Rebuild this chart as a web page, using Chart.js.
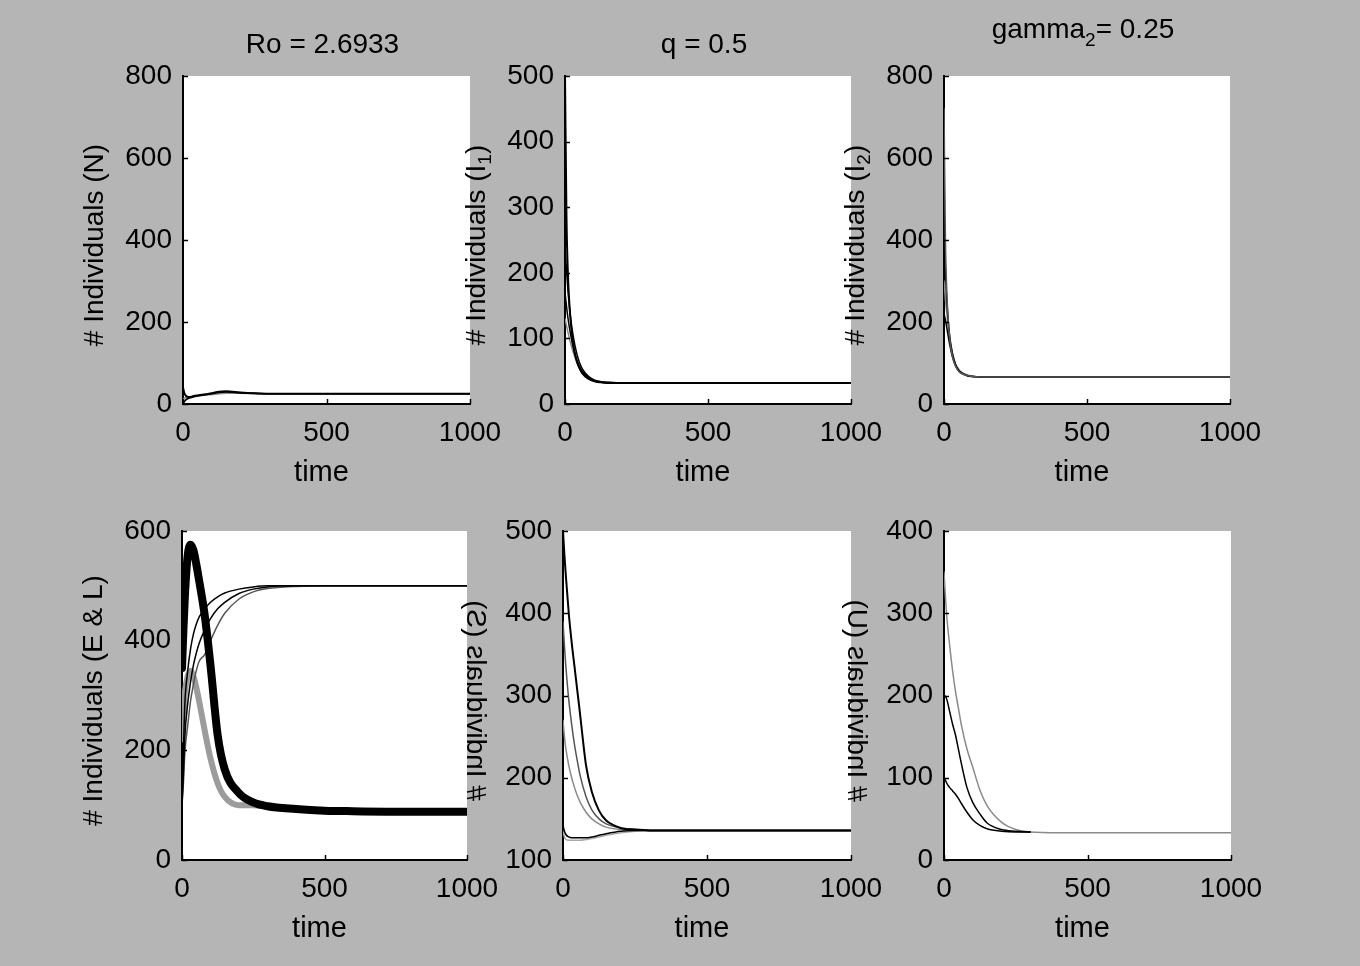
<!DOCTYPE html>
<html>
<head>
<meta charset="utf-8">
<script src="https://cdn.jsdelivr.net/npm/chart.js@4.4.0/dist/chart.umd.min.js"></script>
<style>
  html, body { margin: 0; padding: 0; }
  body { width: 1360px; height: 966px; background: #b5b5b5; position: relative; overflow: hidden; }
  canvas { position: absolute; }
</style>
</head>
<body>
<script>
// Sample times shared by every run (time units)
const TIME = [0, 5, 10, 20, 30, 40, 50, 60, 80, 100, 125, 150, 200, 250, 300, 400, 500, 600, 800, 1000];
const X_TICKS = [0, 500, 1000];

// Total population N
const N_TICKS = [0, 200, 400, 600, 800];
const N_RUN1 = [40, 26, 20, 17, 18, 20, 21, 22, 24, 26, 30, 31, 28, 26, 25, 25, 25, 25, 25, 25];
const N_RUN2 = [0, 6, 10, 14, 16, 18, 20, 21, 23, 25, 28, 29, 27, 26, 25, 25, 25, 25, 25, 25];
const N_RUN3 = [12, 14, 15, 16, 17, 18, 19, 20, 22, 23, 25, 26, 26, 25, 25, 25, 25, 25, 25, 25];

// Infected class I1
const I1_TICKS = [0, 100, 200, 300, 400, 500];
const I1_RUN1 = [500, 290, 200, 125, 88, 67, 55, 47, 39, 35, 33, 32, 32, 32, 32, 32, 32, 32, 32, 32];
const I1_RUN2 = [240, 205, 175, 130, 100, 79, 64, 54, 43, 37, 34, 33, 32, 32, 32, 32, 32, 32, 32, 32];
const I1_RUN3 = [170, 150, 132, 105, 84, 69, 58, 50, 41, 36, 33, 32, 32, 32, 32, 32, 32, 32, 32, 32];
const I1_RUN4 = [130, 120, 110, 92, 77, 65, 56, 49, 41, 36, 34, 33, 32, 32, 32, 32, 32, 32, 32, 32];

// Infected class I2
const I2_TICKS = [0, 200, 400, 600, 800];
const I2_RUN1 = [720, 400, 270, 160, 115, 93, 81, 75, 70, 67, 66, 66, 66, 66, 66, 66, 66, 66, 66, 66];
const I2_RUN2 = [450, 330, 250, 165, 122, 97, 84, 77, 70, 67, 66, 66, 66, 66, 66, 66, 66, 66, 66, 66];
const I2_RUN3 = [220, 205, 185, 145, 114, 94, 82, 75, 69, 67, 66, 66, 66, 66, 66, 66, 66, 66, 66, 66];
const I2_RUN4 = [300, 255, 220, 160, 122, 99, 86, 78, 71, 68, 66, 66, 66, 66, 66, 66, 66, 66, 66, 66];

// Eggs (E) and larvae (L)
const EL_TICKS = [0, 200, 400, 600];
const E_RUN1 = [350, 420, 480, 555, 575, 565, 540, 510, 445, 355, 228, 165, 122, 105, 98, 93, 90, 89, 88, 88];
const E_RUN2 = [220, 265, 305, 335, 345, 335, 315, 290, 235, 185, 140, 115, 100, 100, 97, 93, 90, 89, 88, 88];
const L_RUN1 = [100, 200, 285, 345, 385, 412, 430, 443, 458, 470, 480, 487, 494, 498, 500, 500, 500, 500, 500, 500];
const L_RUN2 = [100, 160, 225, 285, 325, 355, 377, 395, 420, 440, 458, 470, 486, 494, 498, 500, 500, 500, 500, 500];
const L_RUN3 = [100, 140, 195, 245, 290, 320, 345, 362, 375, 400, 428, 450, 476, 489, 495, 499, 500, 500, 500, 500];

// Susceptible class S
const S_TICKS = [100, 200, 300, 400, 500];
const S_RUN1 = [500, 470, 445, 400, 365, 335, 305, 275, 215, 183, 160, 148, 139, 137, 136, 136, 136, 136, 136, 136];
const S_RUN2 = [390, 360, 335, 295, 265, 240, 220, 202, 177, 161, 150, 144, 139, 137, 136, 136, 136, 136, 136, 136];
const S_RUN3 = [270, 250, 235, 215, 200, 188, 178, 170, 158, 150, 144, 140, 137, 136, 136, 136, 136, 136, 136, 136];
const S_RUN4 = [142, 135, 131, 128, 127, 127, 127, 127, 127, 128, 130, 132, 135, 136, 136, 136, 136, 136, 136, 136];
const S_RUN5 = [135, 128, 125, 124, 124, 124, 124, 124, 125, 126, 128, 130, 133, 135, 136, 136, 136, 136, 136, 136];

// Class U
const U_TICKS = [0, 100, 200, 300, 400];
const U_RUN1 = [100, 97, 93, 88, 84, 80, 75, 69, 58, 49, 42, 38, 35, 34, 34, null, null, null, null, null];
const U_RUN2 = [200, 199, 195, 180, 165, 152, 135, 118, 88, 70, 56, 45, 37, 35, 34, null, null, null, null, null];
const U_RUN3 = [350, 320, 295, 260, 230, 205, 185, 165, 135, 113, 85, 66, 46, 37, 34, 33, 33, 33, 33, 33];

const FONT = '"Liberation Sans", Arial, Helvetica, sans-serif';
const BLACK = '#000000', DARK = '#555555', GRAY = '#8a8a8a', LIGHT = '#a9a9a9', BAND = '#9c9c9c';

function run(values, color, width) {
  return { values, color, width };
}

// Runs are listed back to front: later entries are painted over earlier ones.
const PANELS = [
  { box: [183, 470, 76, 404], ticks: N_TICKS, titleY: 53,
    title: [{ t: 'Ro = 2.6933' }],
    ylabel: [{ t: '# Individuals (N)' }], mirror: false,
    runs: [run(N_RUN3, GRAY, 1.5), run(N_RUN2, BLACK, 1.5), run(N_RUN1, BLACK, 2)] },
  { box: [565, 851, 76, 404], ticks: I1_TICKS, titleY: 53,
    title: [{ t: 'q = 0.5' }],
    ylabel: [{ t: '# Individuals (I' }, { t: '1', sub: true }, { t: ')' }], mirror: false,
    runs: [run(I1_RUN4, GRAY, 1.5), run(I1_RUN3, BLACK, 1.5), run(I1_RUN2, BLACK, 1.5), run(I1_RUN1, BLACK, 2)] },
  { box: [944, 1230, 76, 404], ticks: I2_TICKS, titleY: 38,
    title: [{ t: 'gamma' }, { t: '2', sub: true }, { t: '= 0.25' }],
    ylabel: [{ t: '# Individuals (I' }, { t: '2', sub: true }, { t: ')' }], mirror: false,
    runs: [run(I2_RUN4, GRAY, 1.5), run(I2_RUN3, BLACK, 1.5), run(I2_RUN2, BLACK, 1.5), run(I2_RUN1, DARK, 1.5)] },
  { box: [182, 467, 531, 860], ticks: EL_TICKS, titleY: null, title: null,
    ylabel: [{ t: '# Individuals (E & L)' }], mirror: false,
    runs: [run(E_RUN2, BAND, 6), run(L_RUN3, DARK, 1.5), run(L_RUN2, BLACK, 1.5), run(L_RUN1, BLACK, 1.5), run(E_RUN1, BLACK, 8)] },
  { box: [563, 851, 531, 860], ticks: S_TICKS, titleY: null, title: null,
    ylabel: [{ t: '# Individuals (S)' }], mirror: true,
    runs: [run(S_RUN5, LIGHT, 1.5), run(S_RUN3, GRAY, 1.5), run(S_RUN2, DARK, 1.5), run(S_RUN4, BLACK, 1.5), run(S_RUN1, BLACK, 2)] },
  { box: [944, 1231, 531, 860], ticks: U_TICKS, titleY: null, title: null,
    ylabel: [{ t: '# Individuals (U)' }], mirror: true,
    runs: [run(U_RUN3, GRAY, 1.5), run(U_RUN2, BLACK, 1.5), run(U_RUN1, BLACK, 1.5)] }
];

const PAD_L = 130, PAD_T = 80, PAD_R = 50, PAD_B = 100;

// Draws a string made of normal and subscript pieces, centred on (x, y)
function drawRich(ctx, parts, x, y, size, baseline) {
  const subSize = Math.round(size * 0.68);
  let total = 0;
  const widths = parts.map(p => {
    ctx.font = (p.sub ? subSize : size) + 'px ' + FONT;
    const w = ctx.measureText(p.t).width;
    total += w;
    return w;
  });
  let cx = x - total / 2;
  ctx.textAlign = 'left';
  ctx.textBaseline = baseline;
  parts.forEach((p, i) => {
    ctx.font = (p.sub ? subSize : size) + 'px ' + FONT;
    ctx.fillText(p.t, cx, p.sub ? y + size * 0.3 : y);
    cx += widths[i];
  });
}

const framePlugin = {
  id: 'frame',
  beforeDraw(chart) {
    const a = chart.chartArea, ctx = chart.ctx;
    ctx.save();
    ctx.fillStyle = '#ffffff';
    ctx.fillRect(a.left, a.top, a.right - a.left, a.bottom - a.top);
    ctx.restore();
  },
  afterDraw(chart, args, opts) {
    const a = chart.chartArea, ctx = chart.ctx;
    const xs = chart.scales.x, ys = chart.scales.y;
    ctx.save();
    ctx.strokeStyle = '#000';
    ctx.lineWidth = 1.5;
    // inward tick marks
    ys.ticks.forEach(t => {
      const py = Math.round(ys.getPixelForValue(t.value)) + 0.5;
      ctx.beginPath(); ctx.moveTo(a.left, py); ctx.lineTo(a.left + 5, py); ctx.stroke();
    });
    xs.ticks.forEach(t => {
      const px = Math.round(xs.getPixelForValue(t.value)) + 0.5;
      ctx.beginPath(); ctx.moveTo(px, a.bottom); ctx.lineTo(px, a.bottom - 5); ctx.stroke();
    });
    ctx.fillStyle = '#000';
    const midX = (a.left + a.right) / 2 - 5;
    // panel title
    if (opts.title) {
      drawRich(ctx, opts.title, midX + 1, a.top - (76 - opts.titleY), 28, 'alphabetic');
    }
    // x-axis title
    drawRich(ctx, [{ t: 'time' }], midX, a.bottom + 77, 29, 'alphabetic');
    // y-axis title, rotated
    ctx.save();
    ctx.translate(a.left - 88, (a.top + a.bottom) / 2 + 5);
    ctx.rotate(-Math.PI / 2);
    if (opts.mirror) ctx.scale(1, -1);
    drawRich(ctx, opts.ylabel, 0, 0, 28, 'middle');
    ctx.restore();
    ctx.restore();
  }
};

PANELS.forEach((p, idx) => {
  const [L, R, T, B] = p.box;
  const W = (R - L) + PAD_L + PAD_R;
  const H = (B - T) + PAD_T + PAD_B;
  const cv = document.createElement('canvas');
  cv.width = W; cv.height = H;
  cv.style.left = (L - PAD_L) + 'px';
  cv.style.top = (T - PAD_T) + 'px';
  cv.style.width = W + 'px';
  cv.style.height = H + 'px';
  cv.style.zIndex = String(idx);
  document.body.appendChild(cv);

  // Chart.js paints dataset 0 last, so the list is reversed to keep the back-to-front order
  const datasets = p.runs.slice().reverse().map(r => ({
    data: TIME.map((t, i) => ({ x: t, y: r.values[i] })),
    borderColor: r.color,
    borderWidth: r.width,
    pointRadius: 0,
    fill: false,
    cubicInterpolationMode: 'monotone',
    spanGaps: false,
    borderCapStyle: 'round',
    borderJoinStyle: 'round'
  }));

  const yTicks = p.ticks;
  new Chart(cv, {
    type: 'line',
    data: { datasets },
    options: {
      responsive: false,
      devicePixelRatio: 1,
      animation: false,
      events: [],
      layout: { padding: { left: 0, top: PAD_T, right: PAD_R, bottom: 0 } },
      plugins: {
        legend: { display: false },
        tooltip: { enabled: false },
        frame: { title: p.title, titleY: p.titleY, ylabel: p.ylabel, mirror: p.mirror }
      },
      scales: {
        x: {
          type: 'linear',
          min: X_TICKS[0], max: X_TICKS[X_TICKS.length - 1],
          afterBuildTicks: s => { s.ticks = X_TICKS.map(v => ({ value: v })); },
          afterFit: s => { s.height = PAD_B; },
          grid: { display: false, drawTicks: false },
          border: { display: true, color: '#000', width: 2 },
          ticks: {
            autoSkip: false, maxRotation: 0, padding: 12, color: '#000',
            font: { family: FONT, size: 28 },
            callback: v => String(v)
          }
        },
        y: {
          type: 'linear',
          min: yTicks[0], max: yTicks[yTicks.length - 1],
          afterBuildTicks: s => { s.ticks = yTicks.map(v => ({ value: v })); },
          afterFit: s => { s.width = PAD_L; },
          grid: { display: false, drawTicks: false },
          border: { display: true, color: '#000', width: 2 },
          ticks: {
            autoSkip: false, padding: 11, color: '#000',
            font: { family: FONT, size: 28 },
            callback: v => String(v)
          }
        }
      }
    },
    plugins: [framePlugin]
  });
});
</script>
</body>
</html>
